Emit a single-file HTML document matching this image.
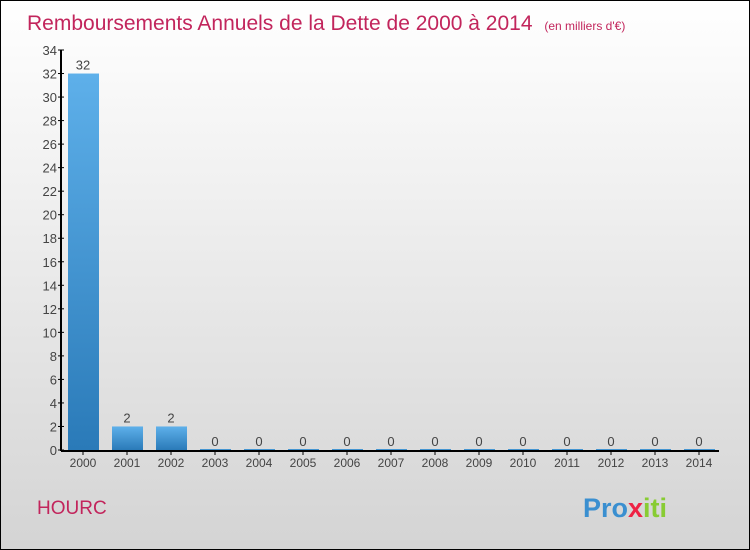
<!DOCTYPE html>
<html><head><meta charset="utf-8"><style>
html,body{margin:0;padding:0}
body{width:750px;height:550px;overflow:hidden;font-family:"Liberation Sans",sans-serif}
#wrap{position:relative;width:748px;height:548px;border:1px solid #000;background:linear-gradient(#ffffff,#d4d4d4)}
</style></head><body>
<div id="wrap">
<svg id="chart" width="748" height="548" style="position:absolute;left:0;top:0">
<defs><linearGradient id="bg" x1="0" y1="0" x2="0" y2="1"><stop offset="0" stop-color="#5eb0ea"/><stop offset="1" stop-color="#2a7ab8"/></linearGradient></defs>
<text x="26" y="29" font-size="21" fill="#c2255c">Remboursements Annuels de la Dette de 2000 à 2014 <tspan font-size="12" dx="6">(en milliers d'€)</tspan></text>
<text x="36" y="513" font-size="19" fill="#c2255c">HOURC</text>
<text x="582" y="516" font-size="27" font-weight="bold" fill="#3a8fd0">Pro<tspan fill="#e24">x</tspan><tspan fill="#8c3">iti</tspan></text>
<g id="g"></g>
</svg>
</div>
<script>
const categories=["2000","2001","2002","2003","2004","2005","2006","2007","2008","2009","2010","2011","2012","2013","2014"];
const values=[32,2,2,0,0,0,0,0,0,0,0,0,0,0,0];
const yTicks=[0,2,4,6,8,10,12,14,16,18,20,22,24,26,28,30,32,34];
const NS="http://www.w3.org/2000/svg";
const g=document.getElementById('g');
const y=v=>449-v*(400/34);
const x=i=>82+i*44;
function mk(t,a,txt){const e=document.createElementNS(NS,t);for(const k in a)e.setAttribute(k,a[k]);if(txt!==undefined)e.textContent=txt;g.appendChild(e);return e;}
yTicks.forEach(t=>{
 const l=mk('line',{x1:57,x2:63,y1:y(t),y2:y(t),stroke:'#000'});
 
 
 const tx=mk('text',{x:56,y:y(t)+5,'text-anchor':'end','font-size':13,fill:'#444'},t);
 
 
});
values.forEach((v,i)=>{
 const h=Math.max(y(0)-y(v),1);
 const r=mk('rect',{x:x(i)-15,y:y(0)-h,width:31,height:h,fill:'url(#bg)'});
 
 
 const vl=mk('text',{x:x(i),y:y(v)-4,'text-anchor':'middle','font-size':13,fill:'#444'},v);
 
 
 const tk=mk('line',{x1:x(i),x2:x(i),y1:449,y2:454,stroke:'#000'});
 
 
 const cl=mk('text',{x:x(i),y:466,'text-anchor':'middle','font-size':12,fill:'#444'},categories[i]);
 
 
});
const ya=mk('line',{x1:60,x2:60,y1:49,y2:450,stroke:'#000','stroke-width':2});


const xa=mk('line',{x1:60,x2:718,y1:450,y2:450,stroke:'#000','stroke-width':2});


</script>
</body></html>
